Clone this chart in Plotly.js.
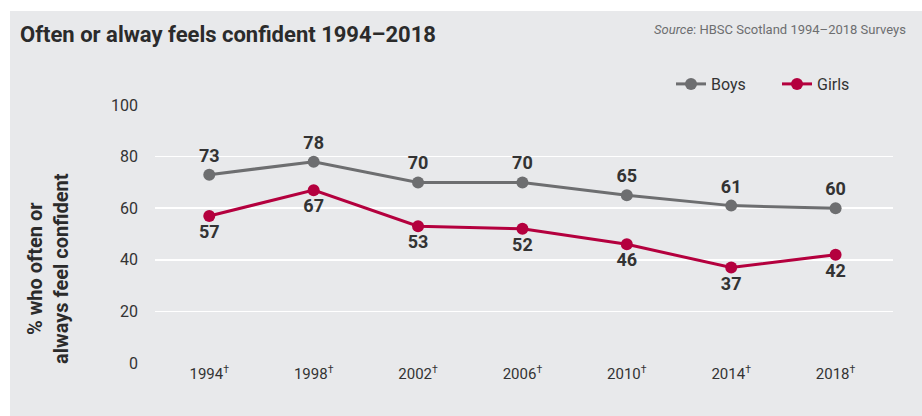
<!DOCTYPE html>
<html><head><meta charset="utf-8">
<script src="https://cdn.plot.ly/plotly-3.0.1.min.js"></script>
<style>
html,body{margin:0;padding:0;background:#fff;}
#bg{position:absolute;left:10px;top:11px;width:912px;height:405px;background:#e8e9eb;}
#chart{position:absolute;left:0;top:0;width:922px;height:416px;}
</style></head>
<body>
<div id="bg"></div>
<div id="chart"></div>
<script>
const years = ['1994', '1998', '2002', '2006', '2010', '2014', '2018'];
const tickLabels = ['1994<sup>†</sup>', '1998<sup>†</sup>', '2002<sup>†</sup>', '2006<sup>†</sup>', '2010<sup>†</sup>', '2014<sup>†</sup>', '2018<sup>†</sup>'];
const boys = [73, 78, 70, 70, 65, 61, 60];
const girls = [57, 67, 53, 52, 46, 37, 42];

const FONT = 'Roboto, "Noto Sans", sans-serif';
const boysColor = '#6d6e70';
const girlsColor = '#b4003e';

const traces = [
  {x: years, y: boys, name: 'Boys', type: 'scatter', mode: 'lines+markers+text',
   line: {color: boysColor, width: 3}, marker: {color: boysColor, size: 12},
   text: boys.map(String), textposition: 'top center',
   textfont: {family: FONT, size: 18, color: '#333333', weight: 'bold'}, cliponaxis: false},
  {x: years, y: girls, name: 'Girls', type: 'scatter', mode: 'lines+markers+text',
   line: {color: girlsColor, width: 3}, marker: {color: girlsColor, size: 12},
   text: girls.map(String), textposition: 'bottom center',
   textfont: {family: FONT, size: 18, color: '#333333', weight: 'bold'}, cliponaxis: false}
];

const layout = {
  width: 922, height: 416,
  margin: {l: 155, r: 29, t: 105, b: 53, autoexpand: false},
  paper_bgcolor: 'rgba(0,0,0,0)', plot_bgcolor: 'rgba(0,0,0,0)',
  font: {family: FONT, color: '#333333', size: 15},
  showlegend: true,
  legend: {orientation: 'h', x: (671 - 155) / 738, xanchor: 'left', y: (363 - 84) / 258, yanchor: 'middle',
           entrywidth: 61, entrywidthmode: 'pixels',
           font: {family: FONT, size: 16, color: '#333333'}, bgcolor: 'rgba(0,0,0,0)'},
  title: {text: '<b>Often or alway feels confident 1994–2018</b>', x: 20/922, xanchor: 'left',
          xref: 'container', yref: 'container', y: 1 - 34/416, yanchor: 'middle',
          font: {family: FONT, size: 22, color: '#2b2b2b'}},
  xaxis: {type: 'category', range: [-0.52, 6.55], tickvals: years, ticktext: tickLabels,
          showgrid: false, zeroline: false, showline: false, ticks: '',
          tickfont: {family: FONT, size: 15, color: '#333333'}, fixedrange: true},
  yaxis: {range: [0, 100], tickvals: [0, 20, 40, 60, 80, 100], showgrid: true,
          gridcolor: '#ffffff', gridwidth: 1.5, zeroline: false, showline: false, ticks: '',
          ticklabelstandoff: 16,
          tickfont: {family: FONT, size: 16, color: '#333333'}, fixedrange: true},
  annotations: [
    {text: '<b>% who often or<br>always feel confident</b>', textangle: -90,
     xref: 'paper', yref: 'paper', x: (48 - 155) / 738, y: (363 - 268) / 258,
     xanchor: 'center', yanchor: 'middle', showarrow: false,
     font: {family: FONT, size: 20, color: '#2b2b2b'}},
    {text: '<i>Source</i>: HBSC Scotland 1994–2018 Surveys', xref: 'paper', yref: 'paper',
     x: (908 - 155) / 738, y: (363 - 30) / 258, xanchor: 'right', yanchor: 'middle',
     showarrow: false, font: {family: FONT, size: 13, color: '#6d6e70'}}
  ]
};

Plotly.newPlot('chart', traces, layout, {displayModeBar: false, staticPlot: true});
</script>
</body></html>
